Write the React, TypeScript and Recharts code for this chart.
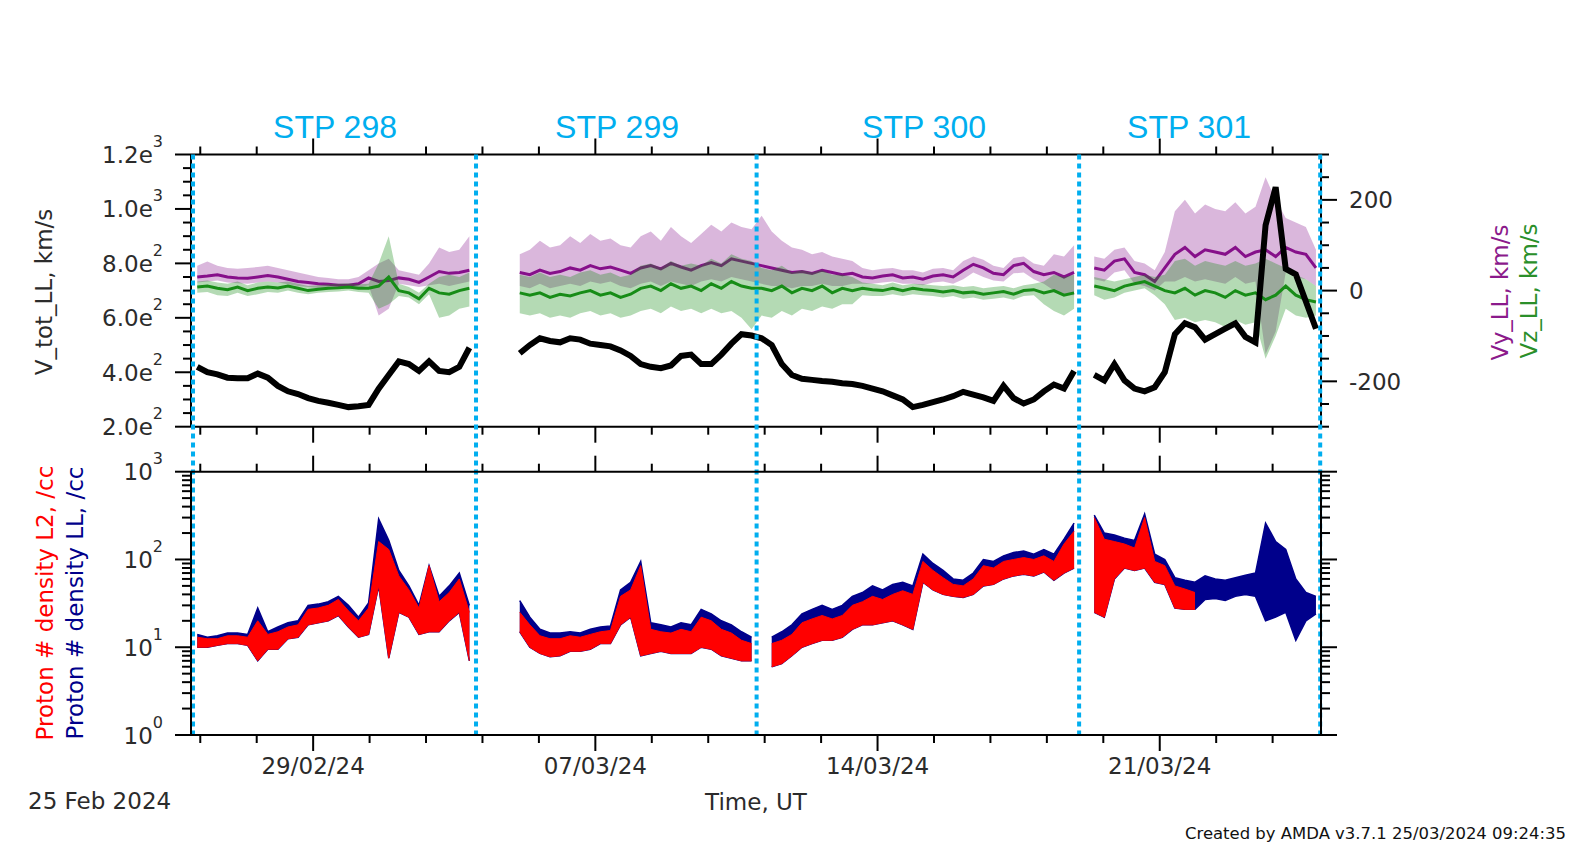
import React from 'react';
import { ComposedChart, Line, Area, XAxis, YAxis, ReferenceLine } from 'recharts';

// ---------- time grid (days since 29/02/2024 00:00 UT) ----------
const T_START = -2.875;
const T_STEP = 0.25;
const X_DOMAIN: [number, number] = [-3.03, 25.0];
const X_TICKS = [-2.8, -1.4, 0, 1.4, 2.8, 4.2, 5.6, 7, 8.4, 9.8, 11.2, 12.6, 14, 15.4, 16.8, 18.2, 19.6, 21, 22.4, 23.8];
const X_LABELS: Record<string, string> = { '0': '29/02/24', '7': '07/03/24', '14': '14/03/24', '21': '21/03/24' };

// STP boundaries (days) and names
const STP_BOUNDS = [-2.98, 4.04, 11.0, 19.0, 24.98];
const STP_NAMES = ['STP 298', 'STP 299', 'STP 300', 'STP 301'];
const STP_LABEL_X = [335, 617, 924, 1189];

const n = null;

// ---------- top panel ----------
const V_TOT: (number | null)[] = [
  420, 400, 392, 380, 378, 378, 395, 380,
  350, 330, 320, 305, 295, 288, 280, 272,
  275, 280, 340, 390, 440, 430, 405, 440,
  405, 400, 420, 490, n, n, n, n,
  470, 500, 525, 515, 510, 525, 520, 505,
  500, 495, 480, 460, 430, 420, 415, 425,
  460, 465, 430, 430, 465, 505, 540, 535,
  525, 500, 430, 390, 376, 372, 368, 365,
  360, 357, 350, 340, 330, 315, 300, 272,
  280, 290, 300, 312, 328, 318, 308, 295,
  350, 305, 285, 300, 330, 355, 340, 405,
  n, 390, 370, 430, 370, 340, 330, 345,
  400, 540, 580, 565, 520, 540, 560, 580,
  530, 510, 940, 1080, 780, 760, 660, 560,
];

const VY_MID: (number | null)[] = [
  30, 32, 35, 30, 28, 27, 30, 33,
  30, 25, 20, 18, 15, 14, 12, 12,
  15, 28, 20, 22, 28, 25, 18, 30,
  42, 38, 40, 45, n, n, n, n,
  40, 35, 45, 38, 42, 50, 45, 55,
  48, 52, 45, 38, 50, 55, 48, 60,
  52, 45, 55, 62, 55, 70, 65, 60,
  55, 50, 45, 40, 42, 38, 45, 40,
  35, 38, 30, 28, 32, 35, 28, 30,
  25, 32, 35, 30, 45, 58, 50, 38,
  35, 55, 60, 42, 35, 40, 30, 40,
  n, 50, 45, 65, 70, 40, 35, 20,
  50, 80, 95, 75, 90, 85, 80, 95,
  75, 85, 90, 75, 95, 85, 80, 50,
];
const VY_LO: (number | null)[] = [
  18, 20, 22, 18, 16, 15, 18, 20,
  18, 14, 10, 8, 6, 5, 4, 4,
  6, 12, -55, -40, 15, 12, 8, 12,
  15, 10, 15, 20, n, n, n, n,
  10, 5, 15, 5, 10, 15, 10, 20,
  15, 20, 10, 5, 15, 20, 10, 20,
  15, 10, 20, 25, 20, 30, 25, 20,
  15, 10, 10, 5, 10, 10, 15, 10,
  10, 15, 15, 15, 18, 20, 15, 15,
  12, 18, 20, 15, 25, 40, 30, 22,
  20, 38, 40, 25, 15, 0, -10, -10,
  n, 25, 20, 40, 45, 15, 10, 0,
  20, 20, 30, 20, 25, 20, 15, 30,
  15, 20, -140, -90, 40, 30, 25, 10,
];
const VY_HI: (number | null)[] = [
  55, 64, 55, 50, 48, 50, 52, 55,
  50, 45, 40, 35, 30, 28, 25, 25,
  30, 45, 60, 70, 45, 40, 35, 60,
  95, 85, 90, 120, n, n, n, n,
  80, 90, 110, 95, 100, 120, 105, 125,
  110, 115, 100, 95, 120, 130, 110, 140,
  120, 105, 125, 145, 130, 150, 140, 135,
  165, 130, 110, 95, 90, 80, 85, 75,
  70, 65, 50, 45, 48, 50, 45, 45,
  40, 48, 50, 45, 65, 75, 68, 55,
  50, 72, 75, 60, 55, 80, 75, 100,
  n, 75, 70, 90, 95, 65, 60, 45,
  85, 175, 200, 170, 190, 180, 175, 195,
  170, 185, 250, 200, 160, 150, 140, 90,
];

const VZ_MID: (number | null)[] = [
  8, 10, 5, 2, 8, 0, 5, 8,
  6, 10, 5, 0, 3, 5, 6, 8,
  5, 5, 10, 30, 0, -5, -18, 5,
  -5, -8, 0, 5, n, n, n, n,
  -5, -10, -5, -15, -8, -12, -5, 0,
  -10, -5, -15, -8, 5, 10, 0, 15,
  5, 10, 0, 15, 5, 20, 10, 5,
  5, 0, 10, -5, 5, 0, 10, -5,
  5, 0, 5, 2, 0, 5, 0, 5,
  2, 0, -3, 0, -5, -3, -8, -5,
  -2, -8, 0, 2, -5, 0, -10, -5,
  n, 10, 5, 0, 10, 15, 20, 10,
  0, -5, 5, -10, 0, -5, -15, 0,
  -10, -5, -20, -10, 10, -10, -20, -25,
];
const VZ_LO: (number | null)[] = [
  -5, -3, -10, -12, -5, -12, -8, -3,
  -5, 0, -5, -8, -5, -3, -2, 0,
  -3, -5, -40, -30, -12, -15, -30, -8,
  -60, -55, -40, -35, n, n, n, n,
  -50, -55, -50, -60, -55, -60, -50, -45,
  -55, -50, -60, -55, -45, -40, -50, -35,
  -45, -40, -50, -40, -50, -45, -60, -85,
  -55, -60, -45, -55, -40, -45, -35, -40,
  -30, -30, -10, -12, -12, -8, -12, -8,
  -10, -12, -15, -12, -18, -15, -20, -18,
  -15, -20, -12, -10, -30, -45, -55, -40,
  n, -10, -20, -15, -5, 0, 5, -10,
  -30, -65, -60, -70, -65, -70, -80, -65,
  -75, -70, -150, -100, -40, -55, -60, -55,
];
const VZ_HI: (number | null)[] = [
  20, 22, 18, 15, 20, 12, 18, 20,
  18, 20, 15, 10, 12, 14, 15, 16,
  14, 15, 60, 120, 15, 8, -5, 15,
  30, 35, 30, 40, n, n, n, n,
  35, 30, 40, 30, 35, 30, 40, 45,
  35, 40, 30, 35, 55, 60, 50, 65,
  55, 60, 55, 70, 60, 80, 70, 65,
  50, 45, 55, 40, 45, 40, 45, 35,
  35, 30, 18, 15, 12, 18, 12, 15,
  14, 12, 10, 12, 8, 10, 5, 8,
  10, 5, 12, 15, 20, 35, 30, 35,
  n, 30, 25, 20, 25, 30, 35, 30,
  35, 65, 70, 55, 65, 60, 55, 65,
  55, 60, 70, 60, 50, 35, 25, 10,
];

// ---------- bottom panel (proton density, /cc) ----------
const NAVY_HI: (number | null)[] = [
  14, 13, 13.5, 14.5, 14.5, 14, 28, 15,
  17, 19, 20, 30, 31, 33, 38, 30,
  22, 32, 290, 165, 75, 50, 30, 85,
  38, 50, 70, 30, n, n, n, n,
  34, 22, 16, 14.5, 14.5, 15, 14.5, 16,
  17, 17.5, 45, 55, 95, 19, 18, 17,
  19, 18, 27, 24, 20, 18, 15, 13,
  n, 13, 15, 18, 24, 27, 30, 27,
  30, 38, 42, 50, 45, 52, 55, 50,
  115, 90, 75, 60, 58, 70, 100, 95,
  110, 120, 125, 115, 130, 115, 170, 260,
  n, 320, 200, 190, 175, 165, 330, 115,
  100, 62, 58, 55, 65, 60, 58, 62,
  66, 70, 260, 160, 130, 60, 42, 38,
];
const NAVY_LO: (number | null)[] = [
  10, 10, 10.5, 11, 11, 10.5, 7, 9.5,
  9.5, 12.5, 13, 18, 19, 20, 23, 17,
  13, 14, 50, 7.5, 25, 22, 14, 15,
  15, 20, 25, 7, n, n, n, n,
  15, 10, 8.5, 7.8, 8, 9, 9, 9.5,
  11, 11, 18, 22, 8, 8.5, 9, 8.5,
  8.5, 8.5, 10, 9.5, 8, 7.5, 7, 7,
  n, 6, 6.5, 8, 10, 11, 12, 12,
  13, 16, 18, 18, 19, 20, 18, 16,
  55, 45, 40, 38, 37, 40, 50, 52,
  60, 65, 68, 65, 72, 58, 70, 80,
  n, 25, 22, 60, 80, 75, 80, 55,
  52, 28, 27, 27, 35, 36, 34, 38,
  40, 38, 20, 22, 25, 12, 20, 24,
];
const RED_HI: (number | null)[] = [
  13, 12.5, 12.5, 13.5, 13.5, 13, 20, 14,
  15, 17, 18, 27, 28, 30, 35, 26,
  20, 28, 160, 130, 65, 45, 28, 85,
  33, 42, 60, 25, n, n, n, n,
  25, 18, 13.5, 12.5, 12.5, 13.5, 13, 14,
  15, 15.5, 38, 45, 85, 16, 15, 14.5,
  16, 15, 22, 20, 16, 14.5, 12, 11,
  n, 11, 12, 14, 19, 21, 23, 21,
  23, 30, 33, 38, 35, 40, 44, 40,
  95, 75, 62, 52, 50, 60, 85, 80,
  95, 100, 105, 100, 110, 95, 150, 210,
  n, 300, 170, 160, 150, 135, 300, 95,
  85, 50, 46, 42, n, n, n, n,
  n, n, n, n, n, n, n, n,
];
const RED_LO: (number | null)[] = [
  10, 10, 10.5, 11, 11, 10.5, 7, 9.5,
  9.5, 12.5, 13, 18, 19, 20, 23, 17,
  13, 14, 50, 7.5, 25, 22, 14, 15,
  15, 20, 25, 7, n, n, n, n,
  15, 10, 8.5, 7.8, 8, 9, 9, 9.5,
  11, 11, 18, 22, 8, 8.5, 9, 8.5,
  8.5, 8.5, 10, 9.5, 8, 7.5, 7, 7,
  n, 6, 6.5, 8, 10, 11, 12, 12,
  13, 16, 18, 18, 19, 20, 18, 16,
  55, 45, 40, 38, 37, 40, 50, 52,
  60, 65, 68, 65, 72, 58, 70, 80,
  n, 25, 22, 60, 80, 75, 80, 55,
  52, 28, 27, 27, n, n, n, n,
  n, n, n, n, n, n, n, n,
];

// ---------- axis ticks ----------
const V_TICKS = [200, 250, 300, 350, 400, 450, 500, 550, 600, 650, 700, 750, 800, 850, 900, 950, 1000, 1050, 1100, 1150, 1200];
const V_LABELS: Record<string, [string, string]> = {
  '200': ['2.0e', '2'], '400': ['4.0e', '2'], '600': ['6.0e', '2'], '800': ['8.0e', '2'], '1000': ['1.0e', '3'], '1200': ['1.2e', '3'],
};
const C_TICKS = [-300, -250, -200, -150, -100, -50, 0, 50, 100, 150, 200, 250, 300];
const C_LABELS: Record<string, string> = { '-200': '-200', '0': '0', '200': '200' };
const LOG_TICKS = [1, 2, 3, 4, 5, 6, 7, 8, 9, 10, 20, 30, 40, 50, 60, 70, 80, 90, 100, 200, 300, 400, 500, 600, 700, 800, 900, 1000];
const LOG_LABELS: Record<string, string> = { '1': '0', '10': '1', '100': '2', '1000': '3' };

// ---------- styles / layout ----------
const W = 1570;
const H = 845;
const PLOT_L = 191;
const PLOT_R = 1321;
const TOP_T = 154.5;
const TOP_B = 426.7;
const BOT_T = 471.7;
const BOT_B = 735;
const AX = 10;
const FONT = "'DejaVu Sans', 'Liberation Sans', sans-serif";
const TXT = '#2b2b2b';
const CYAN = '#00AEEF';
const PURPLE = '#86108a';
const GREEN = '#178c17';
const NAVY = '#00008B';
const RED = '#FF0000';
const AXIS_LINE = { stroke: '#000', strokeWidth: 2 };

const rows = V_TOT.map((_, i) => ({
  t: T_START + i * T_STEP,
  vtot: V_TOT[i],
  vyMid: VY_MID[i],
  vyR: VY_LO[i] == null ? null : [VY_LO[i], VY_HI[i]],
  vzMid: VZ_MID[i],
  vzR: VZ_LO[i] == null ? null : [VZ_LO[i], VZ_HI[i]],
  navyR: NAVY_LO[i] == null ? null : [NAVY_LO[i], NAVY_HI[i]],
  redR: RED_LO[i] == null ? null : [RED_LO[i], RED_HI[i]],
}));

const makeXTick = (dir: number, withLabels: boolean) => (p: any) => {
  const { x, y, payload } = p;
  const lab = X_LABELS[String(payload.value)];
  const major = lab !== undefined;
  const len = major ? 16 : 8;
  return (
    <g>
      <line x1={x} x2={x} y1={y} y2={y + dir * len} stroke="#000" strokeWidth={2} />
      {withLabels && major ? (
        <text x={x} y={y + 39} textAnchor="middle" fontFamily={FONT} fontSize={23} fill={TXT}>{lab}</text>
      ) : null}
    </g>
  );
};

const vTick = (p: any) => {
  const { x, y, payload } = p;
  const lab = V_LABELS[String(payload.value)];
  const len = lab ? 16 : 8;
  return (
    <g>
      <line x1={x} x2={x - len} y1={y} y2={y} stroke="#000" strokeWidth={2} />
      {lab ? (
        <text x={x - 28} y={y + 8.5} textAnchor="end" fontFamily={FONT} fontSize={23} fill={TXT}>
          {lab[0]}
          <tspan dy={-16} fontSize={16}>{lab[1]}</tspan>
        </text>
      ) : null}
    </g>
  );
};

const cTick = (p: any) => {
  const { x, y, payload } = p;
  const lab = C_LABELS[String(payload.value)];
  const len = lab ? 16 : 8;
  return (
    <g>
      <line x1={x} x2={x + len} y1={y} y2={y} stroke="#000" strokeWidth={2} />
      {lab ? (
        <text x={x + 28} y={y + 8.5} textAnchor="start" fontFamily={FONT} fontSize={23} fill={TXT}>{lab}</text>
      ) : null}
    </g>
  );
};

const makeLogTick = (dir: number, withLabels: boolean) => (p: any) => {
  const { x, y, payload } = p;
  const lab = LOG_LABELS[String(payload.value)];
  const len = lab !== undefined ? 16 : 9;
  return (
    <g>
      <line x1={x} x2={x + dir * len} y1={y} y2={y} stroke="#000" strokeWidth={2} />
      {withLabels && lab !== undefined ? (
        <text x={x - 28} y={y + 8.5} textAnchor="end" fontFamily={FONT} fontSize={23} fill={TXT}>
          10
          <tspan dy={-16} fontSize={16}>{lab}</tspan>
        </text>
      ) : null}
    </g>
  );
};

const stpShape = (p: any) => {
  const yb = Math.max(p.y1, p.y2);
  return <line x1={p.x1} x2={p.x1} y1={TOP_T} y2={yb} stroke={CYAN} strokeWidth={4} strokeDasharray="5 4" />;
};

const TopPanel = () => (
  <ComposedChart
    width={W}
    height={H}
    data={rows}
    margin={{ top: TOP_T - AX, bottom: H - TOP_B - AX, left: PLOT_L - AX, right: W - PLOT_R - AX }}
  >
    <XAxis xAxisId="b" type="number" dataKey="t" domain={X_DOMAIN} allowDataOverflow ticks={X_TICKS} interval={0}
      height={AX} tickSize={0} tickMargin={0} tickLine={false} axisLine={AXIS_LINE} tick={makeXTick(1, false)} />
    <XAxis xAxisId="t" orientation="top" type="number" dataKey="t" domain={X_DOMAIN} allowDataOverflow ticks={X_TICKS} interval={0}
      height={AX} tickSize={0} tickMargin={0} tickLine={false} axisLine={AXIS_LINE} tick={makeXTick(-1, false)} />
    <YAxis yAxisId="v" type="number" domain={[200, 1200]} allowDataOverflow ticks={V_TICKS} interval={0}
      width={AX} tickSize={0} tickMargin={0} tickLine={false} axisLine={AXIS_LINE} tick={vTick} />
    <YAxis yAxisId="c" orientation="right" type="number" domain={[-300, 300]} allowDataOverflow ticks={C_TICKS} interval={0}
      width={AX} tickSize={0} tickMargin={0} tickLine={false} axisLine={AXIS_LINE} tick={cTick} />
    <Area xAxisId="b" yAxisId="c" dataKey="vyR" stroke="none" fill={PURPLE} fillOpacity={0.3} isAnimationActive={false} zIndex={100} />
    <Line xAxisId="b" yAxisId="c" dataKey="vyMid" stroke={PURPLE} strokeWidth={3} dot={false} activeDot={false} isAnimationActive={false} zIndex={101} />
    <Area xAxisId="b" yAxisId="c" dataKey="vzR" stroke="none" fill={GREEN} fillOpacity={0.32} isAnimationActive={false} zIndex={102} />
    <Line xAxisId="b" yAxisId="c" dataKey="vzMid" stroke={GREEN} strokeWidth={3} dot={false} activeDot={false} isAnimationActive={false} zIndex={103} />
    <Line xAxisId="t" yAxisId="v" dataKey="vtot" stroke="#000" strokeWidth={6} dot={false} activeDot={false} isAnimationActive={false} zIndex={110} />
  </ComposedChart>
);

const BottomPanel = () => (
  <ComposedChart
    width={W}
    height={H}
    data={rows}
    margin={{ top: BOT_T - AX, bottom: H - BOT_B - AX, left: PLOT_L - AX, right: W - PLOT_R - AX }}
  >
    <XAxis xAxisId="b" type="number" dataKey="t" domain={X_DOMAIN} allowDataOverflow ticks={X_TICKS} interval={0}
      height={AX} tickSize={0} tickMargin={0} tickLine={false} axisLine={AXIS_LINE} tick={makeXTick(1, true)} />
    <XAxis xAxisId="t" orientation="top" type="number" dataKey="t" domain={X_DOMAIN} allowDataOverflow ticks={X_TICKS} interval={0}
      height={AX} tickSize={0} tickMargin={0} tickLine={false} axisLine={AXIS_LINE} tick={makeXTick(-1, false)} />
    <YAxis yAxisId="l" type="number" scale="log" domain={[1, 1000]} allowDataOverflow ticks={LOG_TICKS} interval={0}
      width={AX} tickSize={0} tickMargin={0} tickLine={false} axisLine={AXIS_LINE} tick={makeLogTick(-1, true)} />
    <YAxis yAxisId="r" orientation="right" type="number" scale="log" domain={[1, 1000]} allowDataOverflow ticks={LOG_TICKS} interval={0}
      width={AX} tickSize={0} tickMargin={0} tickLine={false} axisLine={AXIS_LINE} tick={makeLogTick(1, false)} />
    <Area xAxisId="b" yAxisId="r" dataKey="navyR" stroke={NAVY} strokeWidth={1.5} fill={NAVY} fillOpacity={1} isAnimationActive={false} zIndex={100} />
    <Area xAxisId="t" yAxisId="l" dataKey="redR" stroke={RED} strokeWidth={1} fill={RED} fillOpacity={1} isAnimationActive={false} zIndex={101} />
    {STP_BOUNDS.map((b) => (
      <ReferenceLine key={b} xAxisId="b" yAxisId="l" x={b} shape={stpShape} zIndex={120} />
    ))}
  </ComposedChart>
);

export default function App() {
  return (
    <div style={{ position: 'absolute', left: 0, top: 0, width: W, height: H, background: '#fff', overflow: 'hidden' }}>
      <div style={{ position: 'absolute', left: 0, top: 0 }}>
        <TopPanel />
      </div>
      <div style={{ position: 'absolute', left: 0, top: 0 }}>
        <BottomPanel />
      </div>
      <svg width={W} height={H} style={{ position: 'absolute', left: 0, top: 0, pointerEvents: 'none' }}>
        {STP_NAMES.map((s, i) => (
          <text key={s} x={STP_LABEL_X[i]} y={138} textAnchor="middle" fontFamily="'Liberation Sans', Arial, sans-serif" fontSize={32} fill={CYAN}>{s}</text>
        ))}
        <text transform="translate(52,292) rotate(-90)" textAnchor="middle" fontFamily={FONT} fontSize={23} fill={TXT}>V_tot_LL, km/s</text>
        <text transform="translate(53.3,603) rotate(-90)" textAnchor="middle" fontFamily={FONT} fontSize={23} fill={RED}>Proton # density L2, /cc</text>
        <text transform="translate(83.3,603) rotate(-90)" textAnchor="middle" fontFamily={FONT} fontSize={23} fill={NAVY}>Proton # density LL, /cc</text>
        <text transform="translate(1508.3,292.5) rotate(-90)" textAnchor="middle" fontFamily={FONT} fontSize={23} fill="#8B1A8B">Vy_LL, km/s</text>
        <text transform="translate(1537.3,291) rotate(-90)" textAnchor="middle" fontFamily={FONT} fontSize={23} fill="#2a8f2a">Vz_LL, km/s</text>
        <text x={756} y={810} textAnchor="middle" fontFamily={FONT} fontSize={23} fill={TXT}>Time, UT</text>
        <text x={28} y={809} textAnchor="start" fontFamily={FONT} fontSize={23} fill={TXT}>25 Feb 2024</text>
        <text x={1566} y={839} textAnchor="end" fontFamily={FONT} fontSize={16} fill="#111" textLength={381} lengthAdjust="spacingAndGlyphs">Created by AMDA v3.7.1 25/03/2024 09:24:35</text>
      </svg>
    </div>
  );
}
